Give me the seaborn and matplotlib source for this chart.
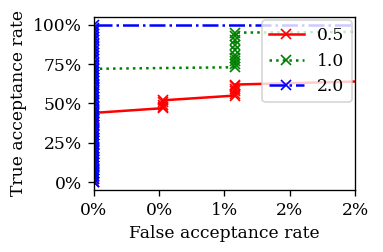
import numpy as np
import pandas as pd
import seaborn as sns
import matplotlib.pyplot as plt
from matplotlib.ticker import PercentFormatter

# ROC-style points (false acceptance rate, true acceptance rate) per threshold
far_05 = [0.0] * 24 + [0.0053] * 5 + [0.0108] * 6 + [0.03]
tar_05 = [0.0, 0.02, 0.04, 0.06, 0.08, 0.10, 0.12, 0.14, 0.16, 0.18, 0.20, 0.22,
          0.24, 0.26, 0.28, 0.30, 0.32, 0.34, 0.36, 0.38, 0.40, 0.41, 0.43, 0.44,
          0.47, 0.48, 0.49, 0.51, 0.52,
          0.55, 0.56, 0.58, 0.59, 0.61, 0.62,
          0.66]

far_10 = [0.0] * 28 + [0.0108] * 10 + [0.03]
tar_10 = [0.0, 0.03, 0.05, 0.08, 0.10, 0.13, 0.15, 0.18, 0.21, 0.24, 0.27, 0.30,
          0.33, 0.36, 0.39, 0.42, 0.45, 0.48, 0.51, 0.54, 0.57, 0.60, 0.62, 0.64,
          0.66, 0.68, 0.70, 0.72,
          0.73, 0.75, 0.77, 0.79, 0.81, 0.84, 0.87, 0.90, 0.93, 0.95,
          0.96]

far_20 = [0.0] * 51 + [0.03]
tar_20 = [0.0, 0.02, 0.04, 0.06, 0.08, 0.10, 0.12, 0.14, 0.16, 0.18, 0.20, 0.22,
          0.24, 0.26, 0.28, 0.30, 0.32, 0.34, 0.36, 0.38, 0.40, 0.42, 0.44, 0.46,
          0.48, 0.50, 0.52, 0.54, 0.56, 0.58, 0.60, 0.62, 0.64, 0.66, 0.68, 0.70,
          0.72, 0.74, 0.76, 0.78, 0.80, 0.82, 0.84, 0.86, 0.88, 0.90, 0.92, 0.94,
          0.96, 0.98, 1.0,
          1.0]

labels = ["0.5", "1.0", "2.0"]
colors = ["red", "green", "blue"]
styles = ["-", ":", "-."]

plt.rcParams["font.family"] = "DejaVu Serif"
plt.rcParams["font.size"] = 10.3

fig, ax = plt.subplots(figsize=(383 / 120, 252 / 120), dpi=120)
fig.subplots_adjust(left=0.245, right=0.927, top=0.933, bottom=0.246)

for far, tar, lab, col, ls in zip([far_05, far_10, far_20], [tar_05, tar_10, tar_20],
                                  labels, colors, styles):
    df = pd.DataFrame({"far": far, "tar": tar})
    sns.lineplot(data=df, x="far", y="tar", ax=ax, estimator=None, sort=False,
                 color=col, linestyle=ls, marker="x", markeredgecolor=col,
                 markeredgewidth=1.0, linewidth=1.5, label=lab)

ax.set_xlim(0, 0.02)
ax.set_ylim(-0.05, 1.05)
ax.set_xticks([0, 0.005, 0.01, 0.015, 0.02])
ax.set_yticks([0, 0.25, 0.5, 0.75, 1.0])
ax.xaxis.set_major_formatter(PercentFormatter(1.0, decimals=0))
ax.yaxis.set_major_formatter(PercentFormatter(1.0, decimals=0))
ax.set_xlabel("False acceptance rate")
ax.set_ylabel("True acceptance rate")
ax.legend(loc="upper right", borderaxespad=0.2)

plt.savefig("out.png", dpi=120)
